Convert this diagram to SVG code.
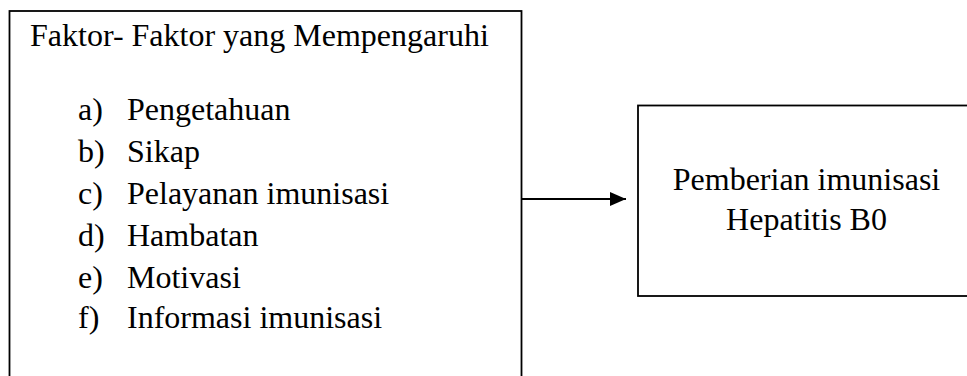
<svg xmlns="http://www.w3.org/2000/svg" width="967" height="376" viewBox="0 0 967 376">
  <style>
    .box { fill: #ffffff; stroke: #000000; stroke-width: 1.8; }
    .txt { font-family: "Liberation Serif", "Times New Roman", serif; font-size: 32px; fill: #000000; }
    .mid { text-anchor: middle; }
    .edge { stroke: #000000; stroke-width: 2; fill: none; }
  </style>
  <defs>
    <marker id="arrow" markerWidth="16" markerHeight="14" refX="16" refY="7" orient="auto" markerUnits="userSpaceOnUse">
      <path d="M0,0 L16,7 L0,14 Z" fill="#000000"/>
    </marker>
  </defs>
  <rect width="967" height="376" fill="#ffffff"/>

  <!-- factors box (runs past the bottom edge) -->
  <g id="faktor">
    <rect class="box" x="9.5" y="11" width="512" height="400"/>
    <text class="txt" x="30" y="46">Faktor- Faktor yang Mempengaruhi</text>
    <g class="txt">
      <text x="78" y="120">a)</text><text x="127" y="120">Pengetahuan</text>
      <text x="78" y="162">b)</text><text x="127" y="162">Sikap</text>
      <text x="78" y="204">c)</text><text x="127" y="204">Pelayanan imunisasi</text>
      <text x="78" y="246">d)</text><text x="127" y="246">Hambatan</text>
      <text x="78" y="287.5">e)</text><text x="127" y="287.5">Motivasi</text>
      <text x="78" y="328">f)</text><text x="127" y="328">Informasi imunisasi</text>
    </g>
  </g>

  <!-- outcome box (runs past the right edge) -->
  <g id="pemberian">
    <rect class="box" x="638" y="105.5" width="340" height="190.5"/>
    <text class="txt mid" x="806.5" y="190">Pemberian imunisasi</text>
    <text class="txt mid" x="806.5" y="230">Hepatitis B0</text>
  </g>

  <g id="connectors">
    <line class="edge" x1="522" y1="199" x2="626" y2="199" marker-end="url(#arrow)"/>
  </g>
</svg>
